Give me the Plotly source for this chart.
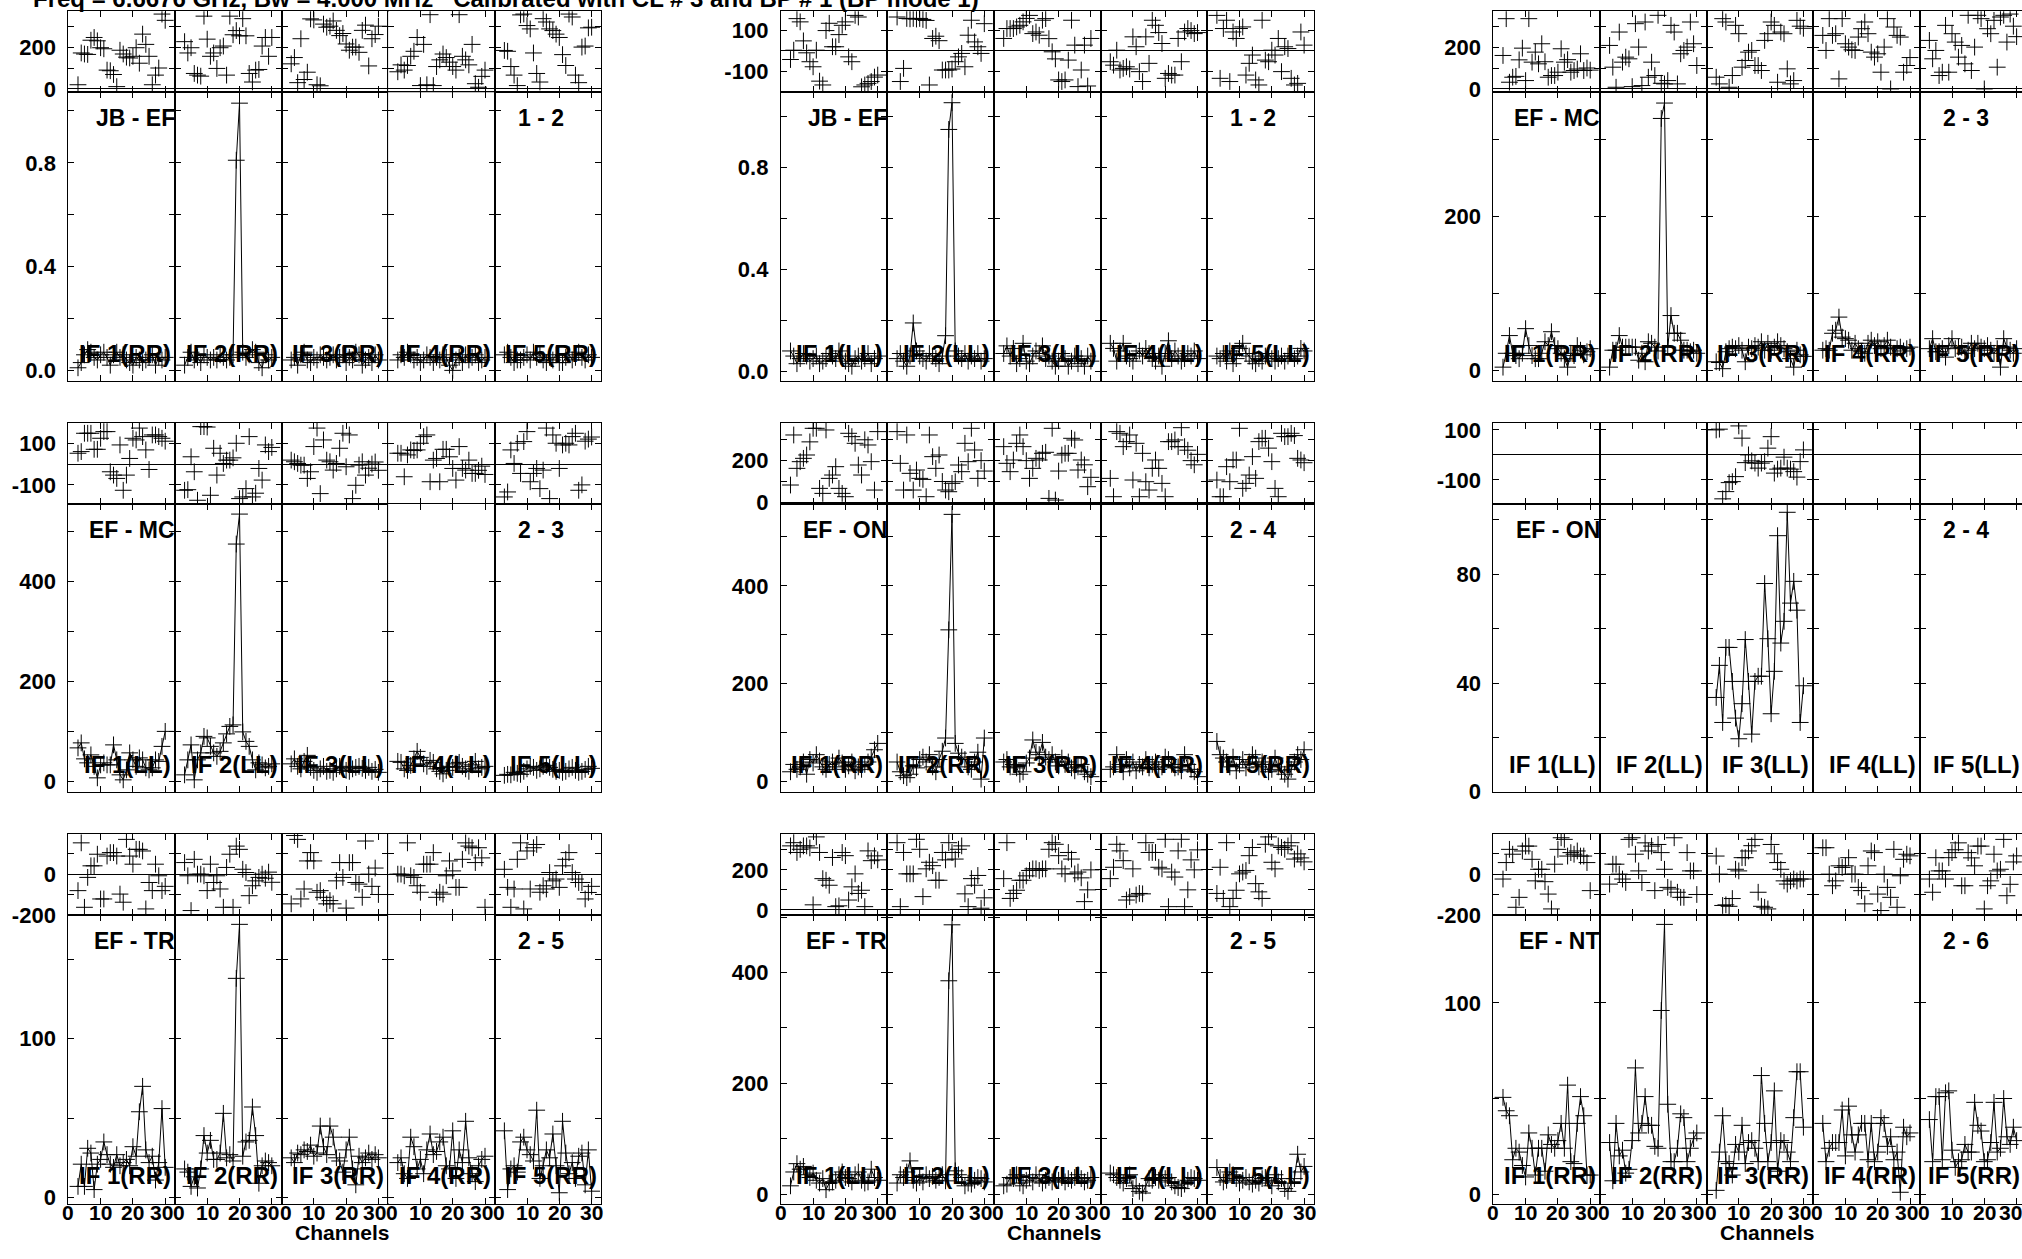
import plotly.graph_objects as go

# ---------------------------------------------------------------- data
channels = list(range(3, 31))
channel_ticks = [0, 10, 20, 30]
channel_tick_text = ["0", "10", "20", "30"]
if_numbers = [1, 2, 3, 4, 5]
title_text = "Freq = 6.6676 GHz, Bw = 4.000 MHz   Calibrated with CL # 3 and BP # 1 (BP mode 1)"

baselines = ["JB - EF", "JB - EF", "EF - MC", "EF - MC", "EF - ON", "EF - ON", "EF - TR", "EF - TR", "EF - NT"]
antenna_pairs = ["1 - 2", "1 - 2", "2 - 3", "2 - 3", "2 - 4", "2 - 4", "2 - 5", "2 - 5", "2 - 6"]
stokes = ["RR", "LL", "RR", "LL", "RR", "LL", "RR", "LL", "RR"]

amp_jbef_rr = [
    [0.01,0.03,0.06,0.08,0.07,0.05,0.04,0.06,0.07,0.05,0.02,0.06,0.07,0.05,0.06,0.04,0.03,0.02,0.05,0.04,0.03,0.04,0.05,0.06,0.02,0.05,0.04,0.05],
    [0.02,0.05,0.07,0.04,0.05,0.03,0.06,0.05,0.04,0.05,0.04,0.06,0.05,0.04,0.05,0.06,0.81,1.03,0.07,0.05,0.06,0.08,0.07,0.03,0.01,0.06,0.04,0.05],
    [0.04,0.05,0.02,0.06,0.07,0.04,0.03,0.05,0.04,0.06,0.05,0.04,0.05,0.06,0.04,0.05,0.06,0.03,0.05,0.04,0.07,0.06,0.02,0.04,0.05,0.03,0.06,0.04],
    [0.04,0.06,0.05,0.07,0.06,0.04,0.05,0.03,0.04,0.06,0.05,0.03,0.05,0.04,0.06,0.05,0.02,0.00,0.04,0.05,0.03,0.06,0.04,0.05,0.06,0.03,0.04,0.05],
    [0.06,0.07,0.05,0.03,0.04,0.04,0.05,0.06,0.04,0.07,0.05,0.06,0.04,0.03,0.05,0.04,0.06,0.03,0.03,0.05,0.06,0.04,0.05,0.07,0.05,0.04,0.06,0.05],
]
phase_jbef_rr = [
    [20,172,167,165,233,246,230,197,192,90,87,69,11,185,167,152,148,156,197,123,262,213,156,20,66,100,358,328],
    [226,172,197,74,66,61,348,238,156,172,98,197,205,66,348,259,279,254,336,254,74,33,90,93,205,246,156,246],
    [120,150,30,240,45,80,335,330,20,15,310,295,300,325,280,255,265,215,185,200,200,175,280,305,110,240,260,300],
    [82,115,90,112,156,180,246,16,213,20,355,16,107,139,167,150,128,107,90,355,156,139,115,213,25,8,60,90],
    [184,180,107,66,16,354,358,303,287,172,74,33,336,320,287,279,262,246,164,112,358,344,66,30,200,205,292,295],
]

amp_jbef_ll = [
    [0.08,0.06,0.03,0.05,0.07,0.06,0.04,0.05,0.06,0.03,0.04,0.05,0.07,0.06,0.05,0.08,0.06,0.04,0.03,0.02,0.05,0.06,0.04,0.05,0.07,0.03,0.05,0.06],
    [0.05,0.07,0.04,0.02,0.06,0.19,0.08,0.06,0.05,0.04,0.07,0.06,0.05,0.03,0.06,0.14,0.95,1.055,0.08,0.06,0.05,0.07,0.04,0.06,0.05,0.07,0.04,0.05],
    [0.07,0.10,0.06,0.09,0.03,0.05,0.11,0.04,0.03,0.06,0.08,0.07,0.10,0.05,0.06,0.04,0.02,0.04,0.07,0.05,0.02,0.04,0.06,0.03,0.05,0.02,0.06,0.04],
    [0.11,0.09,0.04,0.08,0.11,0.06,0.05,0.04,0.07,0.08,0.06,0.09,0.07,0.05,0.04,0.06,0.02,0.07,0.12,0.05,0.08,0.06,0.04,0.05,0.07,0.06,0.08,0.05],
    [0.06,0.05,0.07,0.04,0.08,0.03,0.05,0.09,0.11,0.07,0.06,0.04,0.03,0.05,0.04,0.06,0.07,0.05,0.04,0.05,0.06,0.04,0.06,0.07,0.05,0.06,0.09,0.08],
]
phase_jbef_ll = [
    [-43,3,159,143,49,-10,-54,-79,3,-150,-169,100,136,20,20,80,126,143,-30,-54,175,167,-178,-169,-161,-152,-130,-120],
    [167,-152,-87,160,158,160,157,160,155,150,-169,61,72,50,-95,-95,-95,-90,-54,-30,-13,-79,77,151,44,20,-13,134],
    [61,110,110,110,118,126,143,160,175,85,93,77,151,159,60,-5,-40,-144,-152,-144,-46,151,28,-177,-95,28,-174,61],
    [-54,-71,3,-95,-87,-79,-90,69,20,-103,-152,69,-62,151,126,90,36,-136,-112,-120,-120,61,-54,93,110,100,85,90],
    [175,-136,110,151,-152,93,61,110,118,-120,-62,-21,-144,-169,151,-46,-54,3,-21,61,-103,20,11,-136,-169,-161,93,28],
]

amp_efmc_rr = [
    [4,22,45,22,19,15,22,54,32,19,15,15,22,37,32,50,32,28,22,15,4,22,19,32,26,20,24,28],
    [4,26,26,45,30,30,30,30,30,13,22,11,37,35,30,25,327,347,30,71,48,48,39,26,26,24,26,22],
    [11,10,2,24,28,30,28,32,26,11,30,28,32,30,37,26,35,26,30,37,32,28,24,15,4,26,20,18],
    [26,28,26,48,52,69,43,41,39,26,35,28,24,22,35,39,32,37,28,32,39,30,22,28,30,25,28,30],
    [28,41,24,24,28,17,32,41,28,30,30,22,26,35,28,35,30,28,32,26,22,28,4,41,30,26,22,28],
]
phase_efmc_rr = [
    [160,336,32,56,60,139,195,40,336,128,176,120,216,130,56,64,64,80,192,128,140,80,88,95,168,88,100,90],
    [208,104,8,272,128,152,144,11,312,200,16,320,56,128,64,352,27,24,40,304,272,24,168,184,200,320,216,112],
    [56,24,336,320,8,64,304,264,104,136,176,184,112,112,88,232,264,320,304,32,272,264,96,24,40,328,300,290],
    [256,184,336,256,264,48,336,216,200,187,184,248,288,320,264,176,152,168,80,200,336,0,296,256,248,80,112,150],
    [232,144,184,64,80,304,80,264,224,152,208,120,352,88,200,352,336,0,288,264,328,104,344,352,224,358,300,250],
]

amp_efmc_ll = [
    [67,77,45,37,53,30,7,33,37,33,33,73,43,13,3,23,57,43,30,47,43,27,23,27,43,40,70,100],
    [13,43,73,3,43,57,90,87,70,57,50,60,77,95,110,113,475,535,99,80,70,43,23,37,33,27,30,35],
    [35,45,30,25,40,52,28,22,18,25,30,20,22,18,25,30,28,22,20,25,28,30,26,22,28,20,24,18],
    [40,38,25,22,32,45,60,48,35,30,42,38,25,20,15,22,30,28,35,38,30,25,20,33,40,25,28,30],
    [12,14,13,18,16,14,20,25,30,28,22,25,30,32,28,24,20,22,18,20,25,28,22,18,20,24,30,26],
]
phase_efmc_ll = [
    [52,60,148,148,148,71,71,124,156,156,-37,-53,-69,92,-126,-53,27,124,116,173,132,68,-26,140,140,132,124,110],
    [-126,-123,35,-37,-174,180,180,178,-150,76,-53,52,3,19,19,30,100,-166,-158,-118,132,-158,-140,-21,-77,92,60,80],
    [19,11,3,-5,-5,-69,-37,84,173,-142,116,19,11,-29,3,76,148,-13,140,-166,-102,-5,11,-53,-20,0,10,-30],
    [52,52,-61,44,68,65,68,100,132,140,-85,19,27,-85,71,71,35,-21,-77,84,-21,-29,19,-45,-45,-30,-10,-50],
    [-158,-134,68,3,100,-45,108,156,-85,-45,-21,-118,-29,173,-166,140,100,-21,92,100,92,132,148,-126,-100,110,120,130],
]

amp_efon_rr = [
    [20,35,25,30,40,15,45,38,55,42,30,25,35,40,30,48,38,25,32,40,22,30,25,35,40,50,65,78],
    [40,20,12,8,15,32,28,45,50,40,55,30,20,45,62,89,310,546,78,58,50,45,30,25,40,60,5,89],
    [40,45,30,35,28,15,20,38,48,85,60,55,80,50,45,55,40,32,48,35,40,28,22,30,35,20,15,10],
    [25,30,55,35,20,45,28,40,22,35,30,45,28,35,40,25,30,50,45,35,28,30,22,55,35,25,20,10],
    [82,55,48,40,30,50,22,35,45,28,40,55,48,30,40,35,20,25,48,30,22,15,5,25,40,55,45,65],
]
phase_efon_rr = [
    [83,323,163,195,211,227,290,355,355,67,43,347,115,131,171,67,43,27,331,315,283,179,131,300,275,195,59,339],
    [339,187,59,323,139,59,155,115,110,27,323,219,163,227,100,59,51,91,99,179,147,283,195,355,251,115,200,150],
    [267,187,147,203,283,323,267,200,115,163,211,203,235,240,19,355,11,150,227,235,235,307,299,155,203,180,75,120],
    [115,27,339,331,267,291,323,107,283,27,235,99,59,163,203,163,91,27,291,291,299,267,358,267,250,200,180,230],
    [107,27,27,171,99,203,203,355,67,91,131,219,115,291,307,307,260,195,67,27,331,315,315,331,320,211,203,190],
]

amp_efon_ll = [
    [],
    [],
    [34.7,46.5,25.5,53.1,53.1,40.6,27.1,19.5,32.4,56.0,40.6,21.2,40.6,42.5,42.5,76.6,56.3,28.7,44.3,94.2,54.7,62.7,102.8,69.4,77.4,66.8,25.5,39.0],
    [],
    [],
]
phase_efon_ll = [
    [],
    [],
    [100,103,-176,-147,-111,-107,-87,116,67,-31,0,-24,-33,-53,-33,-27,27,73,-73,-57,-53,-9,-53,-57,-67,-89,-27,20],
    [],
    [],
]

amp_eftr_rr = [
    [7,21,7,31,28,5,21,24,35,27,21,19,27,20,22,24,20,32,26,54,70,30,22,26,11,22,56,19],
    [18,16,7,13,6,18,39,28,36,24,24,28,53,25,27,23,138,172,26,35,36,57,39,9,20,23,22,20],
    [25,22,28,27,30,29,33,26,28,45,32,27,45,38,25,23,16,30,38,18,8,26,22,25,28,24,27,25],
    [22,25,15,12,38,32,18,24,15,30,40,27,29,35,38,20,18,42,12,30,22,48,25,15,10,20,24,26],
    [42,5,18,20,16,35,38,30,27,23,55,12,20,30,25,40,20,3,48,28,15,22,12,26,28,8,30,4],
]
phase_eftr_rr = [
    [-81,154,-163,-16,41,41,98,-122,-122,89,106,106,89,-98,-138,171,89,49,122,122,114,-171,-41,-81,49,-8,-81,-60],
    [57,-8,-179,73,0,0,-8,-81,49,-41,-8,-73,-163,33,98,-163,138,122,24,8,-106,-57,-33,-16,0,-20,10,-40],
    [-146,190,171,-122,-73,65,106,65,-89,-81,-114,-146,-130,-146,-33,57,-16,-167,57,57,-41,-49,-114,163,0,-60,30,-100],
    [0,0,-8,154,-8,-16,-57,-89,49,49,49,106,-114,-89,-98,-8,65,16,-65,-65,73,154,138,130,57,130,80,-163],
    [24,-65,-163,-73,73,154,-171,114,-73,130,146,-89,-57,-73,8,-33,-24,-65,41,73,106,8,-24,-41,-41,-122,-90,-60],
]

amp_eftr_ll = [
    [15,40,55,45,50,35,30,38,25,20,28,8,20,22,25,35,40,30,28,22,35,40,25,20,22,45,30,25],
    [20,35,30,40,60,25,20,30,22,35,28,32,25,30,35,24,385,486,42,35,30,15,20,18,25,30,28,22],
    [15,18,30,28,35,20,15,25,30,22,35,28,20,25,30,22,28,25,30,22,28,25,30,35,28,22,25,30],
    [38,35,30,25,20,28,35,10,15,5,2,15,28,25,30,25,35,28,30,22,15,12,10,18,25,30,28,25],
    [48,30,22,25,40,35,28,20,25,30,22,18,25,20,28,30,25,15,35,22,28,10,5,20,28,72,40,50],
]
phase_eftr_ll = [
    [320,336,287,303,320,320,310,25,365,287,156,148,123,262,16,20,287,271,49,115,180,82,98,16,295,246,270,250],
    [336,16,287,180,180,180,353,303,66,205,238,221,148,148,287,250,336,287,254,303,320,80,16,156,123,172,8,60],
    [156,336,57,82,98,148,148,170,197,205,205,197,205,205,303,336,328,271,205,180,287,254,180,189,160,41,100,200],
    [156,213,328,295,246,49,66,205,74,82,80,336,287,287,287,213,205,353,16,189,164,295,353,16,100,250,200,300],
    [82,213,57,336,16,57,98,180,189,197,271,312,131,90,57,328,365,238,205,320,312,303,320,336,254,280,260,240],
]

amp_efnt_rr = [
    [50.6,43.6,41,18,24,22,15,9,32,24,10,24,24,12,31,26,24,28,37,24,57,17,16,37,51,41,10,10],
    [27,7,37,20,23,11,13,28,66,32,37,51,36,36,25,24,96,141,47,17,17,24,42,40,17,24,29,32],
    [2,22,41,17,16,10,26,22,36,16,27,28,24,17,62,37,17,27,54,12,28,27,22,17,40,64,64,35],
    [37,17,24,27,27,27,44,20,46,31,22,31,37,37,18,37,17,22,40,37,25,30,18,22,1,35,30,32],
    [39,17,51,51,18,53,54,23,14,17,18,26,22,22,48,36,33,17,18,27,48,22,24,50,30,26,35,28],
]
phase_efnt_rr = [
    [-24,57,122,98,-163,-114,114,138,138,73,-33,24,24,-37,-98,-171,49,122,179,171,89,106,98,114,89,89,57,-81],
    [-49,49,49,0,-24,-41,171,179,98,16,-41,154,114,138,-81,146,106,24,-65,-73,179,-89,-114,-114,106,16,16,-100],
    [89,0,-154,-151,-158,-120,24,16,81,81,114,140,171,-89,-158,-163,-171,146,100,57,24,-33,-49,-33,-24,-33,-24,-24],
    [130,130,0,-57,-33,41,33,41,81,0,0,-65,-81,-146,41,114,106,-98,-179,0,-65,-114,122,-163,-8,73,98,90],
    [-24,-89,81,16,16,-24,81,106,120,154,-57,-57,106,80,41,138,138,-171,-57,-33,98,16,24,171,-106,-50,60,90],
]

amp_sets = [amp_jbef_rr, amp_jbef_ll, amp_efmc_rr, amp_efmc_ll, amp_efon_rr,
            amp_efon_ll, amp_eftr_rr, amp_eftr_ll, amp_efnt_rr]
phase_sets = [phase_jbef_rr, phase_jbef_ll, phase_efmc_rr, phase_efmc_ll, phase_efon_rr,
              phase_efon_ll, phase_eftr_rr, phase_eftr_ll, phase_efnt_rr]

# ---------------------------------------------------------------- axis styling per panel
amp_axes = [
    dict(range=[-0.041, 1.072], tickvals=[0, 0.2, 0.4, 0.6, 0.8, 1.0], ticktext=["0.0", "", "0.4", "", "0.8", ""]),
    dict(range=[-0.038, 1.096], tickvals=[0, 0.2, 0.4, 0.6, 0.8, 1.0], ticktext=["0.0", "", "0.4", "", "0.8", ""]),
    dict(range=[-14, 361], tickvals=[0, 100, 200, 300], ticktext=["0", "", "200", ""]),
    dict(range=[-22, 556], tickvals=[0, 100, 200, 300, 400, 500], ticktext=["0", "", "200", "", "400", ""]),
    dict(range=[-22, 568], tickvals=[0, 100, 200, 300, 400, 500], ticktext=["0", "", "200", "", "400", ""]),
    dict(range=[-0.2, 106], tickvals=[0, 20, 40, 60, 80, 100], ticktext=["0", "", "40", "", "80", ""]),
    dict(range=[-3.8, 178], tickvals=[0, 50, 100, 150], ticktext=["0", "", "100", ""]),
    dict(range=[-17, 504], tickvals=[0, 100, 200, 300, 400, 500], ticktext=["0", "", "200", "", "400", ""]),
    dict(range=[-4.9, 146], tickvals=[0, 50, 100], ticktext=["0", "", "100"]),
]
phase_axes = [
    dict(range=[-16, 371], tickvals=[0, 100, 200, 300], ticktext=["0", "", "200", ""]),
    dict(range=[-205, 195], tickvals=[-100, 0, 100], ticktext=["-100", "", "100"]),
    dict(range=[-16, 371], tickvals=[0, 100, 200, 300], ticktext=["0", "", "200", ""]),
    dict(range=[-190, 199], tickvals=[-100, 0, 100], ticktext=["-100", "", "100"]),
    dict(range=[-6, 382], tickvals=[0, 100, 200, 300], ticktext=["0", "", "200", ""]),
    dict(range=[-195, 129], tickvals=[-100, 0, 100], ticktext=["-100", "", "100"]),
    dict(range=[-200, 198], tickvals=[-200, -100, 0, 100], ticktext=["-200", "", "0", ""]),
    dict(range=[-25, 380], tickvals=[0, 100, 200, 300], ticktext=["0", "", "200", ""]),
    dict(range=[-200, 198], tickvals=[-200, -100, 0, 100], ticktext=["-200", "", "0", ""]),
]

# ---------------------------------------------------------------- geometry
FIG_W, FIG_H = 2022, 1259
# the captured picture shows the page slightly squeezed vertically; target
# positions (measured on the reference) are mapped back through that.
SY, OY = 0.9866, 4.65
VIS_RIGHT = FIG_W

COL_LEFT = [68.3, 780.8, 1493.3]
IF_W = 106.6
ROW_TOP = [11.0, 422.7, 834.3]
PH_H, AMP_H = 81.0, 289.0
X_FULL = 33.0

FONT = "Liberation Sans, Arial, Helvetica, sans-serif"


def fx(T):
    return min(max(T / FIG_W, 0.0), 1.0)


def fy(T):
    return 1 - ((T - OY) / SY) / FIG_H


axis_common = dict(
    showline=True, linecolor="black", linewidth=1, mirror="allticks",
    ticks="inside", ticklen=6, tickwidth=1, tickcolor="black",
    showgrid=False, zeroline=False,
    tickfont=dict(family=FONT, size=22, color="black", weight="bold"),
)

marker_style = dict(symbol="cross-thin", size=12, color="black", line=dict(width=1, color="black"))

fig = go.Figure()
layout_axes = {}
annotations = []
n = 0
for pi in range(9):
    row, col = divmod(pi, 3)
    for i in range(5):
        left = COL_LEFT[col] + i * IF_W
        right = left + IF_W
        xmax = X_FULL
        clipped = False
        if right > VIS_RIGHT:
            xmax = X_FULL * (VIS_RIGHT - left) / IF_W
            right = VIS_RIGHT
            clipped = True
        for part in ("phase", "amp"):
            n += 1
            if part == "phase":
                top = ROW_TOP[row]
                bot = top + PH_H
                ydata = phase_sets[pi][i]
                yspec = phase_axes[pi]
            else:
                top = ROW_TOP[row] + PH_H
                bot = top + AMP_H
                ydata = amp_sets[pi][i]
                yspec = amp_axes[pi]
            xs = "x" if n == 1 else f"x{n}"
            ys = "y" if n == 1 else f"y{n}"
            layout_axes["xaxis" if n == 1 else f"xaxis{n}"] = dict(
                axis_common, domain=[fx(left), fx(right)], range=[0, xmax], anchor=ys,
                tickmode="array", tickvals=channel_ticks, ticktext=channel_tick_text,
                showticklabels=False,
            )
            yax = dict(
                axis_common, domain=[fy(bot), fy(top)], range=yspec["range"], anchor=xs,
                tickmode="array", tickvals=yspec["tickvals"], ticktext=yspec["ticktext"],
                showticklabels=(i == 0), ticklabelstandoff=7,
            )
            if part == "phase":
                yax.update(zeroline=True, zerolinecolor="black", zerolinewidth=1)
            if clipped:
                yax.update(mirror=False)
            layout_axes["yaxis" if n == 1 else f"yaxis{n}"] = yax
            xdata = channels[:len(ydata)]
            fig.add_trace(go.Scatter(
                x=xdata, y=ydata, xaxis=xs, yaxis=ys,
                mode="markers" if part == "phase" else "lines+markers",
                marker=marker_style, line=dict(color="black", width=1),
                showlegend=False, hoverinfo="skip",
            ))
            # channel tick labels under the bottom row, placed on the axis values
            if row == 2 and part == "amp":
                for t, txt in zip(channel_ticks, channel_tick_text):
                    if t > xmax:
                        continue
                    shift = 0
                    if t == 0 and i > 0:
                        shift = 4
                    if t == 30 and i < 4:
                        shift = -4
                    if clipped and t == 30:
                        shift = -6
                    annotations.append(dict(
                        text=txt, x=t, xref=xs, y=fy(1213), yref="paper",
                        xanchor="center", yanchor="middle", xshift=shift, showarrow=False, borderpad=0,
                        font=dict(family=FONT, size=21, color="black", weight="bold"),
                    ))
        # IF label
        lab_x = min(COL_LEFT[col] + (i + 1) * IF_W - 3, VIS_RIGHT - 1)
        annotations.append(dict(
            text=f"IF {if_numbers[i]}({stokes[pi]})", x=fx(lab_x), y=fy(ROW_TOP[row] + PH_H + AMP_H - 28),
            xref="paper", yref="paper", xanchor="right", yanchor="middle", showarrow=False, borderpad=0,
            font=dict(family=FONT, size=24, color="black", weight="bold"),
        ))
    # baseline and antenna pair labels
    annotations.append(dict(
        text=baselines[pi], x=fx(COL_LEFT[col] + IF_W + 1), y=fy(ROW_TOP[row] + PH_H + 26),
        xref="paper", yref="paper", xanchor="right", yanchor="middle", showarrow=False, borderpad=0,
        font=dict(family=FONT, size=23, color="black", weight="bold"),
    ))
    annotations.append(dict(
        text=antenna_pairs[pi], x=fx(COL_LEFT[col] + 4 * IF_W + 46), y=fy(ROW_TOP[row] + PH_H + 26),
        xref="paper", yref="paper", xanchor="center", yanchor="middle", showarrow=False, borderpad=0,
        font=dict(family=FONT, size=23, color="black", weight="bold"),
    ))

for col in range(3):
    annotations.append(dict(
        text="Channels", x=fx(COL_LEFT[col] + 2.5 * IF_W + 7.5), y=0.0005,
        xref="paper", yref="paper", xanchor="center", yanchor="bottom", showarrow=False, borderpad=0,
        font=dict(family=FONT, size=21, color="black", weight="bold"),
    ))

annotations.append(dict(
    text=title_text, x=fx(32), y=fy(-2), xref="paper", yref="paper",
    xanchor="left", yanchor="middle", showarrow=False, borderpad=0,
    font=dict(family=FONT, size=24, color="black", weight="bold"),
))

fig.update_layout(
    width=FIG_W, height=FIG_H, autosize=False,
    margin=dict(l=0, r=0, t=0, b=0, pad=0),
    paper_bgcolor="white", plot_bgcolor="white",
    showlegend=False, annotations=annotations,
    **layout_axes,
)

fig.write_html(
    "out.html",
    config={"displayModeBar": False},
    post_script="document.body.style.margin='0';document.body.style.overflow='hidden';"
                "document.documentElement.style.overflow='hidden';",
)
